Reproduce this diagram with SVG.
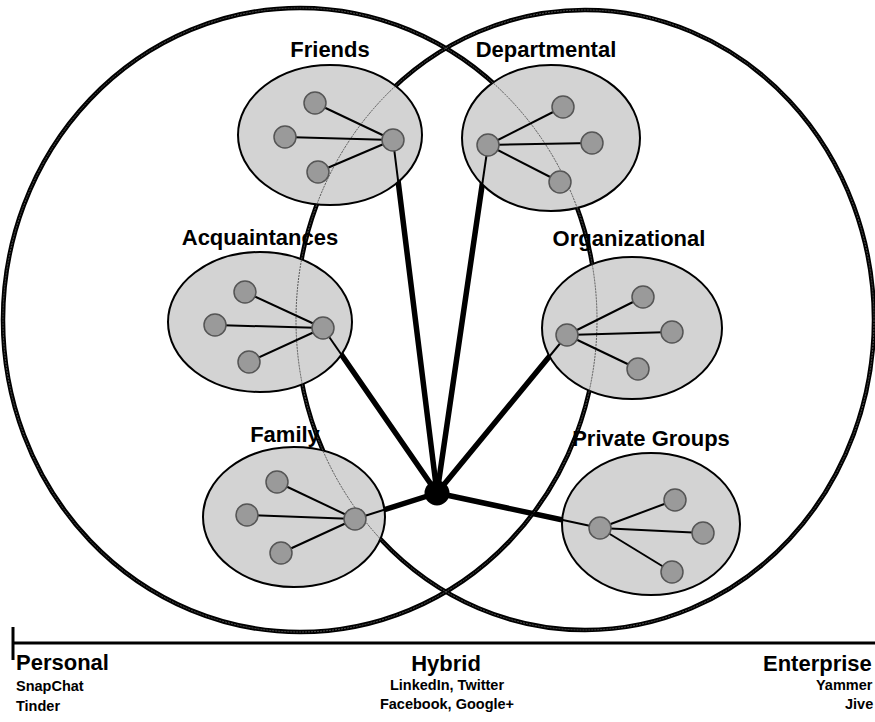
<svg xmlns="http://www.w3.org/2000/svg" width="875" height="722" viewBox="0 0 875 722">
<style>
.big{fill:none;stroke:#000;stroke-width:4.5}
.bigthin{fill:none;stroke:#555;stroke-width:1;stroke-dasharray:2 1}
.thick{stroke:#000;stroke-width:5.5;stroke-linecap:round}
.group{fill:#d3d3d3;stroke:#000;stroke-width:2}
.spoke{stroke:#000;stroke-width:2}
.dot{fill:#9a9a9a;stroke:#555;stroke-width:1.5}
.lbl{font-family:"Liberation Sans",Arial,sans-serif;font-weight:bold;font-size:22px;fill:#000}
.sm{font-family:"Liberation Sans",Arial,sans-serif;font-weight:bold;font-size:14.5px;fill:#000}
.mid{text-anchor:middle}
</style>
<rect width="875" height="722" fill="#fff"/>
<g id="personal-circle"><ellipse class="big" cx="300" cy="320" rx="297" ry="312"/></g>
<g id="enterprise-circle"><ellipse class="big" cx="585" cy="320" rx="289" ry="310"/></g>
<g id="connectors">
<line class="thick" x1="437" y1="493" x2="393" y2="140"/>
<line class="thick" x1="437" y1="493" x2="488" y2="145"/>
<line class="thick" x1="437" y1="493" x2="323" y2="328"/>
<line class="thick" x1="437" y1="493" x2="567" y2="335"/>
<line class="thick" x1="437" y1="493" x2="355" y2="519"/>
<line class="thick" x1="437" y1="493" x2="600" y2="528"/>
</g>
<g id="node-shapes">
<ellipse class="group" cx="330" cy="135" rx="92" ry="70"/>
<ellipse class="group" cx="551" cy="138" rx="89" ry="73"/>
<ellipse class="group" cx="260" cy="322" rx="92" ry="70"/>
<ellipse class="group" cx="632" cy="328" rx="90" ry="71"/>
<ellipse class="group" cx="294" cy="517" rx="91" ry="70"/>
<ellipse class="group" cx="651" cy="524" rx="89" ry="71"/>
</g>
<g id="overlap-lines">
<ellipse class="bigthin" cx="300" cy="320" rx="297" ry="312"/>
<ellipse class="bigthin" cx="585" cy="320" rx="289" ry="310"/>
</g>
<g id="connectors-inner">
<line class="spoke" x1="437" y1="493" x2="393" y2="140"/>
<line class="spoke" x1="437" y1="493" x2="488" y2="145"/>
<line class="spoke" x1="437" y1="493" x2="323" y2="328"/>
<line class="spoke" x1="437" y1="493" x2="567" y2="335"/>
<line class="spoke" x1="437" y1="493" x2="355" y2="519"/>
<line class="spoke" x1="437" y1="493" x2="600" y2="528"/>
</g>
<g id="friends">
<line class="spoke" x1="393" y1="140" x2="315" y2="103"/>
<line class="spoke" x1="393" y1="140" x2="285" y2="137"/>
<line class="spoke" x1="393" y1="140" x2="318" y2="172"/>
<circle class="dot" cx="315" cy="103" r="11"/>
<circle class="dot" cx="285" cy="137" r="11"/>
<circle class="dot" cx="318" cy="172" r="11"/>
<circle class="dot" cx="393" cy="140" r="11"/>
<text class="lbl mid" x="330" y="57">Friends</text>
</g>
<g id="departmental">
<line class="spoke" x1="488" y1="145" x2="563" y2="107"/>
<line class="spoke" x1="488" y1="145" x2="592" y2="143"/>
<line class="spoke" x1="488" y1="145" x2="560" y2="182"/>
<circle class="dot" cx="563" cy="107" r="11"/>
<circle class="dot" cx="592" cy="143" r="11"/>
<circle class="dot" cx="560" cy="182" r="11"/>
<circle class="dot" cx="488" cy="145" r="11"/>
<text class="lbl mid" x="546" y="57">Departmental</text>
</g>
<g id="acquaintances">
<line class="spoke" x1="323" y1="328" x2="245" y2="292"/>
<line class="spoke" x1="323" y1="328" x2="215" y2="325"/>
<line class="spoke" x1="323" y1="328" x2="249" y2="362"/>
<circle class="dot" cx="245" cy="292" r="11"/>
<circle class="dot" cx="215" cy="325" r="11"/>
<circle class="dot" cx="249" cy="362" r="11"/>
<circle class="dot" cx="323" cy="328" r="11"/>
<text class="lbl mid" x="260" y="245">Acquaintances</text>
</g>
<g id="organizational">
<line class="spoke" x1="567" y1="335" x2="643" y2="297"/>
<line class="spoke" x1="567" y1="335" x2="672" y2="332"/>
<line class="spoke" x1="567" y1="335" x2="638" y2="369"/>
<circle class="dot" cx="643" cy="297" r="11"/>
<circle class="dot" cx="672" cy="332" r="11"/>
<circle class="dot" cx="638" cy="369" r="11"/>
<circle class="dot" cx="567" cy="335" r="11"/>
<text class="lbl mid" x="629" y="246">Organizational</text>
</g>
<g id="family">
<line class="spoke" x1="355" y1="519" x2="277" y2="482"/>
<line class="spoke" x1="355" y1="519" x2="247" y2="515"/>
<line class="spoke" x1="355" y1="519" x2="281" y2="553"/>
<circle class="dot" cx="277" cy="482" r="11"/>
<circle class="dot" cx="247" cy="515" r="11"/>
<circle class="dot" cx="281" cy="553" r="11"/>
<circle class="dot" cx="355" cy="519" r="11"/>
<text class="lbl mid" x="285" y="442">Family</text>
</g>
<g id="private-groups">
<line class="spoke" x1="600" y1="528" x2="675" y2="500"/>
<line class="spoke" x1="600" y1="528" x2="703" y2="533"/>
<line class="spoke" x1="600" y1="528" x2="672" y2="572"/>
<circle class="dot" cx="675" cy="500" r="11"/>
<circle class="dot" cx="703" cy="533" r="11"/>
<circle class="dot" cx="672" cy="572" r="11"/>
<circle class="dot" cx="600" cy="528" r="11"/>
<text class="lbl mid" x="651" y="446">Private Groups</text>
</g>
<g id="hub"><circle cx="437" cy="493" r="12.5" fill="#000"/></g>
<g id="axis">
<line x1="12" y1="643" x2="875" y2="643" stroke="#000" stroke-width="3"/>
<line x1="13" y1="627" x2="13" y2="660" stroke="#000" stroke-width="3"/>
<text class="lbl" x="16" y="670">Personal</text>
<text class="sm" x="16" y="691">SnapChat</text>
<text class="sm" x="16" y="711">Tinder</text>
<text class="lbl mid" x="446" y="671">Hybrid</text>
<text class="sm mid" x="447" y="690">LinkedIn, Twitter</text>
<text class="sm mid" x="447" y="709">Facebook, Google+</text>
<text class="lbl" x="763" y="671">Enterprise</text>
<text class="sm" x="816" y="690">Yammer</text>
<text class="sm" x="845" y="709">Jive</text>
</g>
</svg>
